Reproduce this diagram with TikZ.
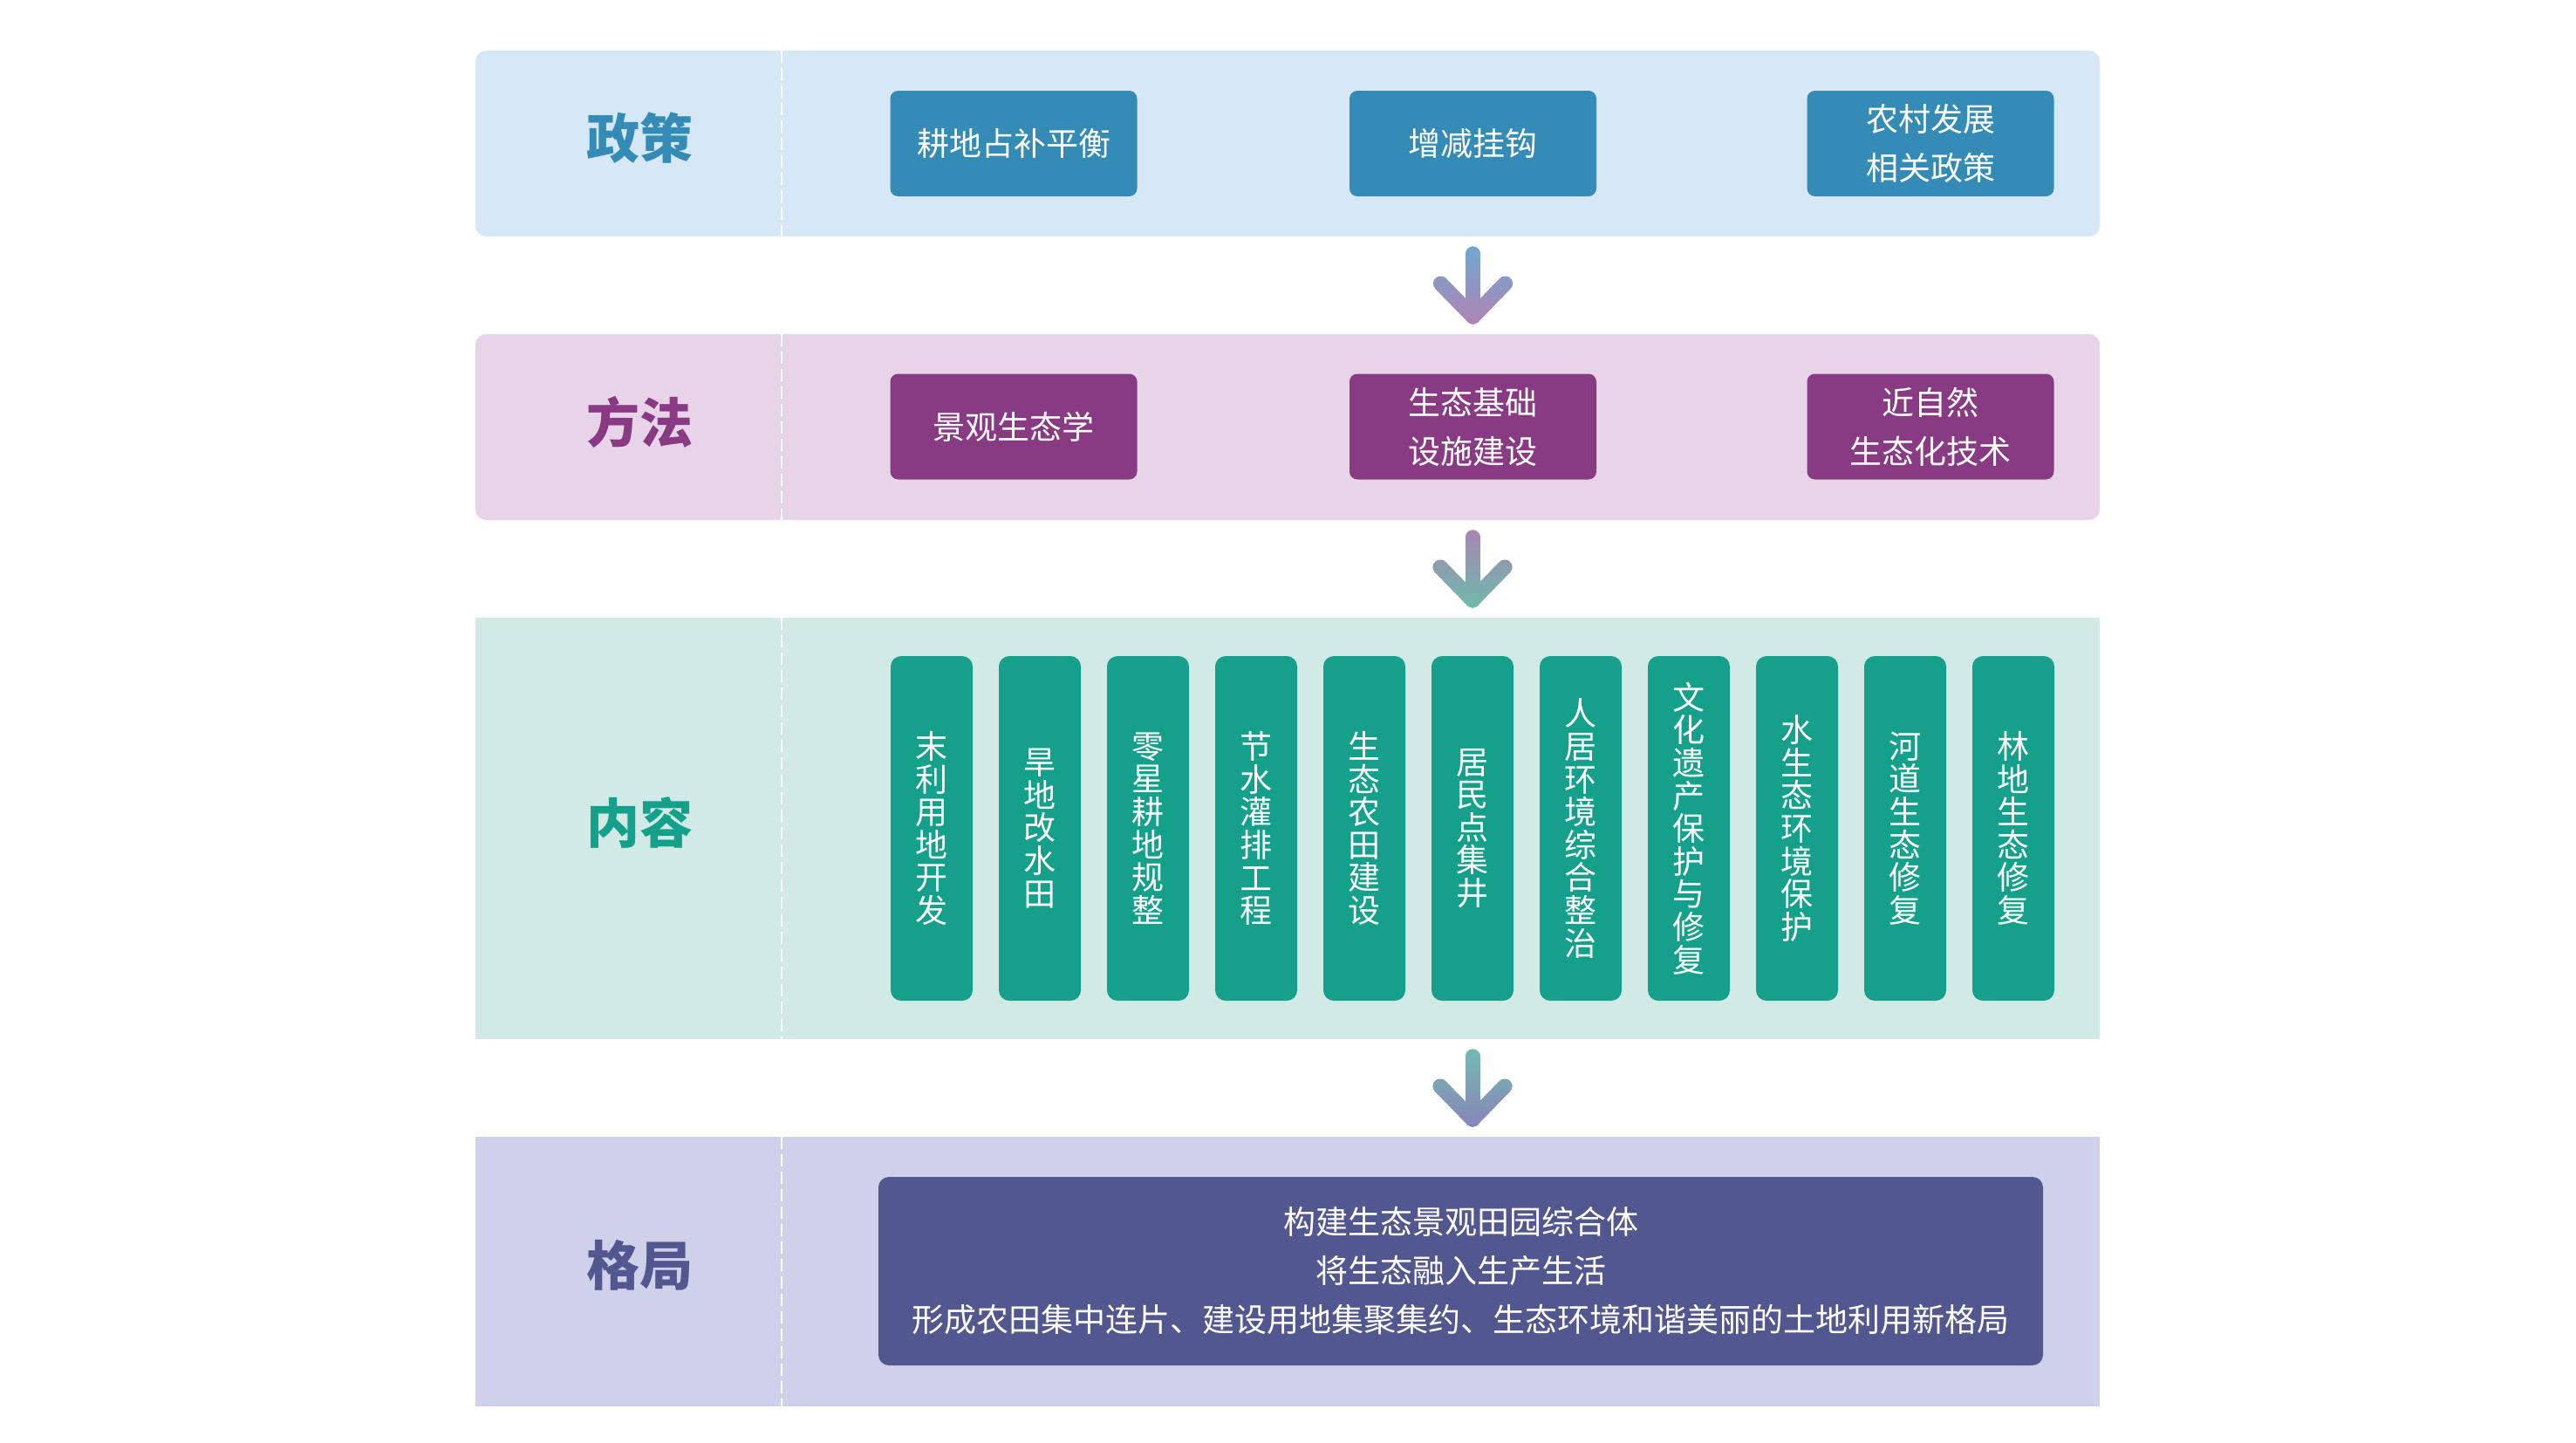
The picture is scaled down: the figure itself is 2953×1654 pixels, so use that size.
\documentclass[tikz,border=0pt]{standalone}
\usepackage{fontspec}
\newfontfamily\cjk{Noto Sans CJK SC}
\usetikzlibrary{calc}
\definecolor{bandA}{HTML}{D6E7F5}
\definecolor{boxA}{HTML}{348BB6}
\definecolor{bandB}{HTML}{E8D4E8}
\definecolor{boxB}{HTML}{883B82}
\definecolor{bandC}{HTML}{D2EAE6}
\definecolor{boxC}{HTML}{14A08A}
\definecolor{bandD}{HTML}{CFD0EA}
\definecolor{boxD}{HTML}{53578F}
\definecolor{arA}{HTML}{6FA8D0}
\definecolor{arB}{HTML}{B084B6}
\definecolor{arC}{HTML}{A884B0}
\definecolor{arD}{HTML}{70BAAC}
\definecolor{arE}{HTML}{74BCB2}
\definecolor{arF}{HTML}{8984B8}
% #1 start coord, #2 tip coord, #3 visual top y, #4 visual bottom y, #5 top colour, #6 bottom colour
\newcommand\gradarrow[6]{%
  \foreach \i in {0,...,29}{%
    \pgfmathtruncatemacro\pc{100-\i*100/29}%
    \colorlet{slicec}{#5!\pc!#6}%
    \begin{scope}
      \clip (0,{#3-3+(#4-#3+6)*\i/30}) rectangle (2953,{#3-3+(#4-#3+6)*(\i+1.4)/30});
      \draw[arrowline, draw=slicec] (#1) -- (#2);
      \draw[arrowline, draw=slicec] ($(#2)+(-37,-38)$) -- (#2) -- ($(#2)+(37,-38)$);
    \end{scope}
  }}
\begin{document}
\begin{tikzpicture}[x=1pt,y=-1pt,
  bandbox/.style={draw=none, inner sep=0pt, outer sep=0pt},
  divider/.style={draw=white, line width=2.5pt, dash pattern=on 14pt off 6pt},
  hdr/.style={font=\cjk\bfseries\fontsize{61}{61}\selectfont, inner sep=0pt},
  pbox/.style={rounded corners=9pt, minimum width=283pt, minimum height=121pt, inner sep=0pt,
               text=white, align=center, font=\cjk\fontsize{37}{56}\selectfont},
  barbox/.style={rounded corners=12pt, fill=boxC, minimum width=94pt, minimum height=395pt, inner sep=0pt,
               text=white, align=center, font=\cjk\fontsize{37}{37.6}\selectfont},
  arrowline/.style={line width=17pt, line cap=round, line join=round}]
\useasboundingbox (0,0) rectangle (2953,1654);
\fill[white] (0,0) rectangle (2953,1654);

% bands
\node[bandbox, fill=bandA, rounded corners=12pt, minimum width=1862pt, minimum height=213pt] (b1) at (1476,164.5) {};
\node[bandbox, fill=bandB, rounded corners=12pt, minimum width=1862pt, minimum height=213pt] (b2) at (1476,489.5) {};
\node[bandbox, fill=bandC, minimum width=1862pt, minimum height=483pt] (b3) at (1476,949.5) {};
\node[bandbox, fill=bandD, minimum width=1862pt, minimum height=309pt] (b4) at (1476,1457.5) {};

% dividers
\foreach \b in {b1,b2,b3,b4}{
  \draw[divider] ($(\b.north west)+(351,0)$) -- ($(\b.south west)+(351,0)$);
}

% headers
\node[hdr, text=boxA] (h1) at ($(b1.west)+(188,-6)$) {政策};
\node[hdr, text=boxB] (h2) at ($(b2.west)+(188,-6)$) {方法};
\node[hdr, text=boxC] (h3) at ($(b3.west)+(188,-7)$) {内容};
\node[hdr, text=boxD] (h4) at ($(b4.west)+(188,-7)$) {格局};

% policy boxes
\node[pbox, fill=boxA] (p1) at (1162,164.5) {耕地占补平衡};
\node[pbox, fill=boxA] (p2) at (1688.5,164.5) {增减挂钩};
\node[pbox, fill=boxA] (p3) at (2213,164.5) {农村发展\\相关政策};

% method boxes
\node[pbox, fill=boxB] (m1) at (1162,489) {景观生态学};
\node[pbox, fill=boxB] (m2) at (1688.5,489) {生态基础\\设施建设};
\node[pbox, fill=boxB] (m3) at (2213,489) {近自然\\生态化技术};

% content bars
\node[barbox] (c1) at (1068,949.5) {末\\利\\用\\地\\开\\发};
\node[barbox] (c2) at (1192,949.5) {旱\\地\\改\\水\\田};
\node[barbox] (c3) at (1316,949.5) {零\\星\\耕\\地\\规\\整};
\node[barbox] (c4) at (1440,949.5) {节\\水\\灌\\排\\工\\程};
\node[barbox] (c5) at (1564,949.5) {生\\态\\农\\田\\建\\设};
\node[barbox] (c6) at (1688,949.5) {居\\民\\点\\集\\井};
\node[barbox] (c7) at (1812,949.5) {人\\居\\环\\境\\综\\合\\整\\治};
\node[barbox] (c8) at (1936,949.5) {文\\化\\遗\\产\\保\\护\\与\\修\\复};
\node[barbox] (c9) at (2060,949.5) {水\\生\\态\\环\\境\\保\\护};
\node[barbox] (c10) at (2184,949.5) {河\\道\\生\\态\\修\\复};
\node[barbox] (c11) at (2308,949.5) {林\\地\\生\\态\\修\\复};

% pattern box
\node[pbox, fill=boxD, rounded corners=12pt, minimum width=1335pt, minimum height=216pt] (g) at (1674.5,1457)
  {构建生态景观田园综合体\\将生态融入生产生活\\形成农田集中连片、建设用地集聚集约、生态环境和谐美丽的土地利用新格局};

% arrows
\coordinate (a1s) at ($(m2.north |- b1.south)+(0,20)$);
\coordinate (a1e) at ($(m2.north |- b2.north)+(0,-20)$);
\coordinate (a2s) at ($(c6.north |- b2.south)+(0,20)$);
\coordinate (a2e) at ($(c6.north |- b3.north)+(0,-20)$);
\coordinate (a3s) at ($(c6.south |- b3.south)+(0,20)$);
\coordinate (a3e) at ($(c6.south |- b4.north)+(0,-20)$);
\gradarrow{a1s}{a1e}{282}{372}{arA}{arB}
\gradarrow{a2s}{a2e}{607}{697}{arC}{arD}
\gradarrow{a3s}{a3e}{1202}{1292}{arE}{arF}
\end{tikzpicture}
\end{document}
